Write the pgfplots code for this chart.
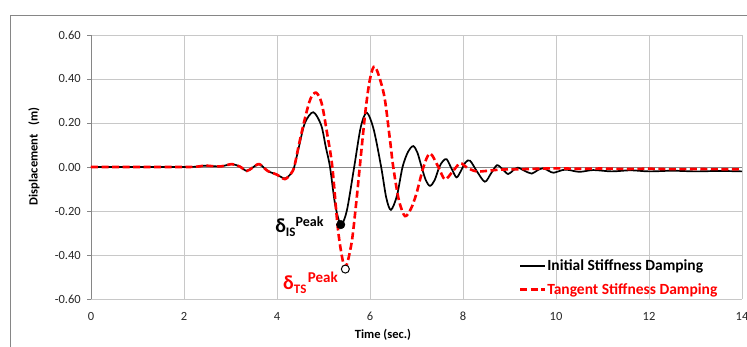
\documentclass[border=0pt]{standalone}
\usepackage{pgfplots}
\pgfplotsset{compat=1.18}
\usepackage{fontspec}
\setmainfont{Carlito}
\definecolor{framegray}{RGB}{134,134,134}
\definecolor{gridgray}{RGB}{200,200,200}
\definecolor{axisgray}{RGB}{134,134,134}
\begin{document}
\begin{tikzpicture}[x=1pt,y=1pt]
\useasboundingbox (0,0) rectangle (747,347);
\draw[framegray, line width=0.9pt] (10,-30) -- (10,331.5) -- (800,331.5);
\begin{axis}[
  at={(91pt,48pt)}, anchor=south west,
  scale only axis, width=651pt, height=264pt,
  xmin=0, xmax=14, ymin=-0.6, ymax=0.6,
  xtick={0,2,...,14}, ytick={-0.6,-0.4,...,0.61},
  grid=major, major grid style={gridgray, line width=0.6pt},
  axis line style={draw=none},
  xtick style={draw=none},
  ytick style={draw=axisgray, line width=0.6pt},
  ytick pos=left, tick align=outside, major tick length=4pt,
  /pgf/number format/assume math mode=true,
  yticklabel={\pgfmathprintnumber[fixed,fixed zerofill,precision=2]{\tick}},
  xticklabel={\pgfmathprintnumber[fixed]{\tick}},
  tick label style={font=\fontsize{12.5}{12.5}\selectfont, text=black!85},
  yticklabel style={inner sep=0pt, xshift=-6pt},
  xticklabel style={inner sep=0pt, yshift=-9pt},
  xlabel={Time (sec.)},
  ylabel={Displacement \ \ (m)},
  label style={font=\fontsize{12.5}{12.5}\selectfont\bfseries},
  xlabel style={at={(axis description cs:0.4485,-0.148)}, anchor=base, inner sep=0pt},
  ylabel style={at={(axis description cs:-0.0876,0.54)}, anchor=center, inner sep=0pt},
  legend image code/.code={\draw[#1] (0pt,0pt) -- (25pt,0pt);},
  legend style={at={(axis description cs:0.657,0.081)}, anchor=west, draw=none, fill=none,
    inner sep=0pt, outer sep=0pt, row sep=9pt,
    font=\fontsize{15.5}{15.5}\selectfont\bfseries,
    cells={anchor=west}, nodes={inner sep=1pt}},
  legend cell align=left,
]
\draw[axisgray, line width=0.9pt] (axis cs:0,0) -- (axis cs:14,0);
\draw[axisgray, line width=0.9pt] (axis cs:0,-0.6) -- (axis cs:0,0.6);

\addplot[black, line width=1.7pt, smooth, tension=0.5] coordinates {
(0,0)(1,0)(2,0)(2.25,0.001)(2.45,0.006)(2.6,0.004)(2.8,0.003)(3.03,0.013)(3.2,0.002)
(3.35,-0.018)(3.48,-0.002)(3.62,0.013)(3.8,-0.018)(4.0,-0.035)(4.17,-0.052)(4.3,-0.03)
(4.37,0.0)(4.47,0.09)(4.6,0.2)(4.78,0.249)(4.95,0.19)(5.05,0.09)(5.14,0.0)(5.25,-0.17)
(5.37,-0.26)(5.5,-0.2)(5.66,0.0)(5.8,0.18)(5.93,0.247)(6.08,0.17)(6.24,0.0)(6.35,-0.14)
(6.45,-0.195)(6.58,-0.13)(6.70,0.0)(6.82,0.07)(6.93,0.095)(7.02,0.065)(7.11,0.0)(7.2,-0.06)
(7.29,-0.086)(7.39,-0.06)(7.49,0.0)(7.57,0.027)(7.65,0.035)(7.76,-0.01)(7.86,-0.047)(7.95,-0.02)
(8.05,0.02)(8.15,0.029)(8.3,-0.02)(8.47,-0.067)(8.6,-0.03)(8.73,0.008)(8.85,-0.01)(8.97,-0.032)
(9.08,-0.015)(9.18,-0.003)(9.33,-0.018)(9.48,-0.03)(9.6,-0.015)(9.72,-0.006)(9.85,-0.018)(9.95,-0.026)
(10.2,-0.012)(10.5,-0.022)(10.8,-0.014)(11.2,-0.02)(11.6,-0.015)(12,-0.02)(12.5,-0.017)
(13,-0.02)(13.5,-0.018)(14,-0.02)
};
\addlegendentry{Initial Stiffness Damping}

\addplot[red, line width=2.6pt, dash pattern=on 7pt off 3.5pt, smooth, tension=0.5] coordinates {
(0,0)(1,0)(2,0)(2.25,0.001)(2.45,0.006)(2.6,0.004)(2.8,0.003)(3.03,0.013)(3.2,0.002)
(3.35,-0.018)(3.48,-0.002)(3.62,0.013)(3.8,-0.018)(4.0,-0.035)(4.17,-0.055)(4.3,-0.03)
(4.37,0.0)(4.47,0.1)(4.6,0.22)(4.72,0.31)(4.84,0.338)(4.96,0.29)(5.08,0.15)(5.19,0.0)
(5.32,-0.3)(5.46,-0.455)(5.6,-0.35)(5.7,-0.17)(5.78,0.0)(5.9,0.25)(6.0,0.4)(6.11,0.456)
(6.3,0.33)(6.42,0.14)(6.5,0.0)(6.62,-0.15)(6.75,-0.223)(6.88,-0.19)(7.0,-0.12)(7.15,0.0)
(7.29,0.062)(7.47,0.0)(7.61,-0.056)(7.78,-0.02)(7.94,0.017)(8.1,-0.005)(8.29,-0.02)
(8.5,-0.018)(8.8,-0.012)(9.2,-0.01)(9.6,-0.008)(10,-0.006)(10.5,-0.008)(11,-0.007)
(11.5,-0.009)(12,-0.008)(12.5,-0.01)(13,-0.009)(13.5,-0.01)(14,-0.01)
};
\addlegendentry{\textcolor{red}{Tangent Stiffness Damping}}

\addplot[only marks, mark=*, mark size=4.3pt, mark options={fill=black, draw=black}, forget plot] coordinates {(5.37,-0.262)};
\addplot[only marks, mark=*, mark size=4pt, mark options={fill=white, draw=black, line width=1pt}, forget plot] coordinates {(5.47,-0.464)};

\node[anchor=base west, inner sep=0pt] at (axis cs:3.96,-0.30)
  {\fontsize{20}{20}\selectfont\bfseries δ\raisebox{-4pt}{\fontsize{13}{13}\selectfont IS}\raisebox{6pt}{\fontsize{14}{14}\selectfont Peak}};
\node[anchor=base west, inner sep=0pt, text=red] at (axis cs:4.13,-0.559)
  {\fontsize{20}{20}\selectfont\bfseries δ\raisebox{-4pt}{\fontsize{13}{13}\selectfont TS}\hspace{1.5pt}\raisebox{7pt}{\fontsize{15}{15}\selectfont Peak}};
\end{axis}
\end{tikzpicture}
\end{document}
